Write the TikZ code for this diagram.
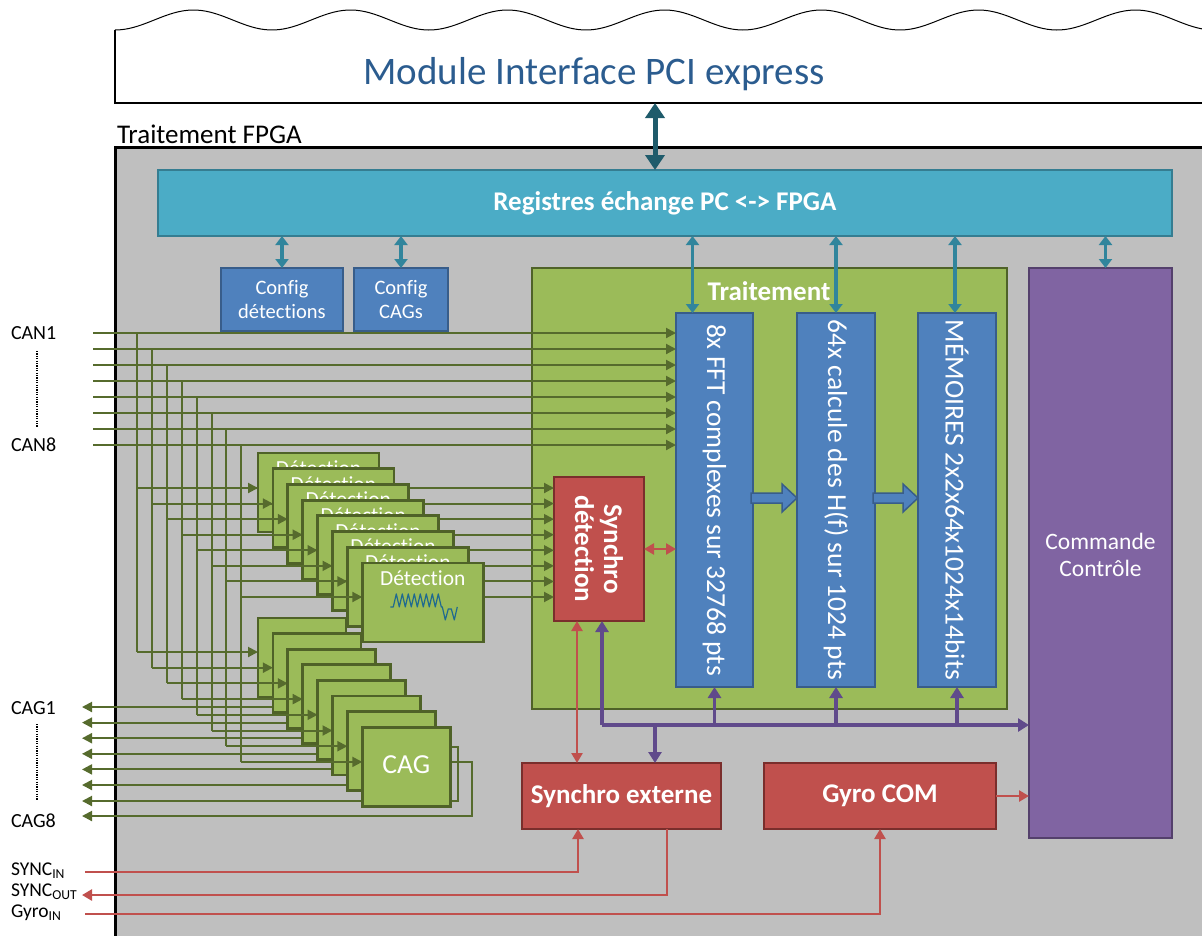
\documentclass[tikz,border=0pt]{standalone}
\usepackage{fontspec}
\setmainfont{Carlito}[Ligatures=NoCommon]
\usetikzlibrary{arrows.meta,calc}

\definecolor{fpgagray}{HTML}{BFBFBF}
\definecolor{regteal}{HTML}{4BACC6}
\definecolor{regtealdark}{HTML}{357D91}
\definecolor{tealarrow}{HTML}{31859C}
\definecolor{pciarrow}{HTML}{1F5B6B}
\definecolor{boxblue}{HTML}{4F81BD}
\definecolor{boxbluedark}{HTML}{385D8A}
\definecolor{boxgreen}{HTML}{9BBB59}
\definecolor{olivedark}{HTML}{4F6228}
\definecolor{olivewire}{HTML}{566B2D}
\definecolor{boxred}{HTML}{C0504D}
\definecolor{boxreddark}{HTML}{7A2E2C}
\definecolor{boxpurple}{HTML}{8064A2}
\definecolor{purpledark}{HTML}{54406C}
\definecolor{purplewire}{HTML}{604A8B}
\definecolor{titleblue}{HTML}{2B5C8F}
\definecolor{wavecol}{HTML}{1F6A8F}

\newcommand{\fsz}[1]{\fontsize{#1}{#1}\selectfont}

\tikzset{
  WTip/.tip={Triangle[length=10pt,width=10pt]},
  TTip/.tip={Triangle[length=9pt,width=13pt]},
  BigTip/.tip={Triangle[length=15pt,width=19pt]},
  PTip/.tip={Triangle[length=11pt,width=13pt]},
  RTip/.tip={Triangle[length=10pt,width=11pt]},
}

\begin{document}
\begin{tikzpicture}[x=1pt,y=-1pt,
  every node/.style={inner sep=0pt,outer sep=0pt},
  blk/.style={rectangle,draw,line width=2.2pt},
  bluebox/.style={blk,fill=boxblue,draw=boxbluedark},
  redbox/.style={blk,fill=boxred,draw=boxreddark},
  greenbox/.style={blk,fill=boxgreen,draw=olivedark,line width=2.8pt},
  whitetxt/.style={text=white,align=center},
  rottxt/.style={text=white,align=center,rotate=-90,font=\fsz{27.5}},
  boldtxt/.style={text=white,align=center,font=\fsz{27}\bfseries},
  wire/.style={olivewire,line width=2pt},
  wirearrow/.style={wire,-WTip},
  tealbi/.style={tealarrow,line width=3.5pt,arrows={TTip-TTip}},
  purp/.style={purplewire,line width=3.5pt,-PTip},
  redw/.style={boxred,line width=2.5pt},
  redarrow/.style={redw,-RTip},
  blockarrow/.style={fill=boxblue,draw=boxbluedark,line width=1.5pt,line join=miter},
  sidelbl/.style={anchor=west,font=\fsz{20}},
  dotline/.style={line width=1.6pt,dash pattern=on 1.2pt off 1.2pt},
]
\useasboundingbox (0,0) rectangle (1202,935);

% ---------- PCI express module ----------
\draw[line width=1pt] plot[domain=115:1202,samples=240] (\x,{20+10*cos(2.2930*(\x-115))});
\draw[line width=2.5pt] (115,30) -- (115,103) -- (1202,103);
\coordinate (pcibot) at (655,103);
\node[font=\fsz{39},text=titleblue] (pcititle) at (594,74) {Module Interface PCI express};

% ---------- FPGA area ----------
\node[anchor=base west,font=\fsz{27}] (fpgalbl) at (117,143) {Traitement FPGA};
\fill[fpgagray] (115,147) rectangle (1210,945);
\draw[line width=3pt] (1210,147) -- (115,147) -- (115,945);

\node[rectangle,fill=regteal,draw=regtealdark,line width=2pt,minimum width=1014pt,minimum height=66pt,
      text=white,font=\fsz{27}\bfseries] (reg) at (665,203) {Registres échange PC <-> FPGA};
\draw[pciarrow,line width=5pt,arrows={BigTip-BigTip}] (pcibot) -- (pcibot |- reg.north);

% configuration blocks
\node[bluebox,minimum width=122pt,minimum height=63pt,whitetxt,font=\fsz{20.5}] (cfgdet) at (282,299.5) {Config\\[3pt]détections};
\node[bluebox,minimum width=94pt,minimum height=63pt,whitetxt,font=\fsz{20.5}] (cfgcag) at (401,299.5) {Config\\[3pt]CAGs};
\draw[tealbi] (cfgdet.north |- reg.south) -- (cfgdet.north);
\draw[tealbi] (cfgcag.north |- reg.south) -- (cfgcag.north);

% processing block
\node[greenbox,minimum width=475pt,minimum height=441pt] (trt) at (769.5,488.5) {};
\node[font=\fsz{27}\bfseries,text=white] (trtlbl) at (769,291) {Traitement};

\node[bluebox,minimum width=77pt,minimum height=374pt] (fft) at (714.5,500) {};
\node[bluebox,minimum width=78pt,minimum height=374pt] (calc) at (836,500) {};
\node[bluebox,minimum width=78pt,minimum height=374pt] (mem) at (957,500) {};
\node[rottxt] (fftlbl) at (fft.center) {8x FFT complexes sur 32768 pts};
\node[rottxt] (calclbl) at (calc.center) {64x calcule des H(f) sur 1024 pts};
\node[rottxt] (memlbl) at (mem.center) {MÉMOIRES 2x2x64x1024x14bits};

% wide data arrows between blocks
\coordinate (ba1s) at (fft.east |- 0,498);
\coordinate (ba1e) at (calc.west |- 0,498);
\coordinate (ba2s) at (calc.east |- 0,498);
\coordinate (ba2e) at (mem.west |- 0,498);
\draw[blockarrow] ($(ba1s)+(-2,-5)$) -- ($(ba1e)+(-15,-5)$) -- ($(ba1e)+(-15,-14)$) -- (ba1e)
  -- ($(ba1e)+(-15,14)$) -- ($(ba1e)+(-15,5)$) -- ($(ba1s)+(-2,5)$) -- cycle;
\draw[blockarrow] ($(ba2s)+(-2,-5)$) -- ($(ba2e)+(-15,-5)$) -- ($(ba2e)+(-15,-14)$) -- (ba2e)
  -- ($(ba2e)+(-15,14)$) -- ($(ba2e)+(-15,5)$) -- ($(ba2s)+(-2,5)$) -- cycle;

% control and synchronisation blocks
\node[blk,fill=boxpurple,draw=purpledark,minimum width=143pt,minimum height=570pt] (cmd) at (1100.5,553) {};
\node[whitetxt,font=\fsz{23.5}] (cmdlbl) at (1100.5,555) {Commande\\[4pt]Contrôle};
\node[redbox,minimum width=90pt,minimum height=144pt] (sdet) at (599,549) {};
\node[rottxt,font=\fsz{27}\bfseries] (sdetlbl) at (sdet.center) {Synchro\\[2pt]détection};
\node[redbox,minimum width=199pt,minimum height=66pt,boldtxt] (sext) at (621.5,796) {Synchro externe};
\node[redbox,minimum width=232pt,minimum height=66pt,boldtxt] (gyro) at (880,796) {Gyro COM};

% register links
\draw[tealbi] ([xshift=-22pt]fft.north |- reg.south) -- ([xshift=-22pt]fft.north);
\draw[tealbi] (calc.north |- reg.south) -- (calc.north);
\draw[tealbi] ([xshift=-2pt]mem.north |- reg.south) -- ([xshift=-2pt]mem.north);
\draw[tealbi] ([xshift=5pt]cmd.north |- reg.south) -- ([xshift=5pt]cmd.north);

% control bus
\coordinate (busL) at (602,725);
\coordinate (busD) at (655,725);
\draw[purp] (busL) -- (busL -| cmd.west);
\draw[purp] (busL) -- (busL |- sdet.south);
\draw[purp] (fft.south |- busL) -- (fft.south);
\draw[purp] (calc.south |- busL) -- (calc.south);
\draw[purp] (mem.south |- busL) -- (mem.south);
\draw[purp] (busD) -- (busD |- sext.north);

% red links
\draw[redw,arrows={RTip-RTip}] (sdet.east) -- (sdet.east -| fft.west);
\draw[redw,arrows={RTip-RTip}] (sdet.south -| 577,0) -- (sext.north -| 577,0);
\draw[redarrow] (gyro.east) -- (gyro.east -| cmd.west);

% ---------- ADC inputs ----------
\foreach \i in {1,...,8}{
  \pgfmathsetmacro{\ycan}{333+16*(\i-1)}
  \coordinate (can\i) at (93,\ycan);
  \draw[wirearrow] (can\i) -- (can\i -| fft.west);
}
% vertical distribution to detection and gain stages
\foreach \i in {1,...,8}{
  \pgfmathsetmacro{\xv}{137+14.9*(\i-1)}
  \pgfmathsetmacro{\yc}{652+15.7*(\i-1)}
  \draw[wire] (can\i -| \xv,0) -- (\xv,\yc);
}
% detection stack
\foreach \i in {1,...,8}{
  \pgfmathsetmacro{\xv}{137+14.9*(\i-1)}
  \pgfmathsetmacro{\yd}{488+15.57*(\i-1)}
  \pgfmathsetmacro{\dl}{258+14.9*(\i-1)}
  \pgfmathsetmacro{\dt}{453+15.7*(\i-1)}
  \coordinate (detsrc\i) at (\xv,\yd);
  \draw[wirearrow] (detsrc\i) -- (detsrc\i -| sdet.west);
  \draw[wirearrow] (detsrc\i) -- (\dl,\yd);
  \node[greenbox,anchor=north west,minimum width=121pt,minimum height=79pt] (det\i) at (\dl,\dt) {};
  \node[text=white,font=\fsz{21.5}] (dett\i) at ([yshift=-15pt]det\i.north) {Détection};
}
\begin{scope}[shift={(det8.north west)}]
  \draw[wavecol,line width=1.2pt,line join=round] (28,44) -- (31,44)
    \foreach \k in {0,...,7}{ -- ({34+6*\k},31) -- ({37+6*\k},44) }
    -- (80,44) -- (83,57) -- (86,46) -- (89,46) -- (92,57) -- (95,44);
\end{scope}

% gain stages: outputs
\foreach \i in {1,...,6}{
  \pgfmathsetmacro{\yo}{707+15.6*(\i-1)}
  \pgfmathsetmacro{\xo}{278+14.9*\i}
  \coordinate (cagsrc\i) at (\xo,\yo);
  \draw[wirearrow] (cagsrc\i) -- (82,\yo);
}
\coordinate (cagsrc7) at (440,747);
\coordinate (cagsrc8) at (440,762);
\draw[wire,-WTip] (cagsrc7) -- (458,747) -- (458,801) -- (82,801);
\draw[wire,-WTip] (cagsrc8) -- (472,762) -- (472,816) -- (82,816);
% gain stages: inputs and blocks
\foreach \i in {1,...,8}{
  \pgfmathsetmacro{\xv}{137+14.9*(\i-1)}
  \pgfmathsetmacro{\yc}{652+15.7*(\i-1)}
  \pgfmathsetmacro{\cl}{258+14.9*(\i-1)}
  \pgfmathsetmacro{\ct}{618+15.6*(\i-1)}
  \draw[wirearrow] (\xv,\yc) -- (\cl,\yc);
  \node[greenbox,anchor=north west,minimum width=88pt,minimum height=79pt] (cag\i) at (\cl,\ct) {};
}
\node[text=white,font=\fsz{27.5}] (cagt) at ([yshift=2pt]cag8.center) {CAG};

% ---------- external signals ----------
\coordinate (syncin) at (85,872);
\coordinate (syncout) at (82,895);
\coordinate (gyroin) at (85,914);
\draw[redarrow] (syncin) -| (sext.south -| 578,0);
\draw[redarrow] (sext.south -| 667,0) |- (syncout);
\draw[redarrow] (gyroin) -| (gyro.south);

% ---------- side labels ----------
\node[sidelbl] (lcan1) at (11,333) {CAN1};
\node[sidelbl] (lcan8) at (11,445) {CAN8};
\draw[dotline] (37,351) -- (37,427);
\node[sidelbl] (lcag1) at (11,708) {CAG1};
\node[sidelbl] (lcag8) at (11,821) {CAG8};
\draw[dotline] (37,724) -- (37,800);
\node[sidelbl,font=\fsz{19.5}] (lsin) at (11,871) {SYNC\textsubscript{IN}};
\node[sidelbl,font=\fsz{19.5}] (lsout) at (11,892) {SYNC\textsubscript{OUT}};
\node[sidelbl,font=\fsz{19.5}] (lgyro) at (11,913) {Gyro\textsubscript{IN}};
\end{tikzpicture}
\end{document}
